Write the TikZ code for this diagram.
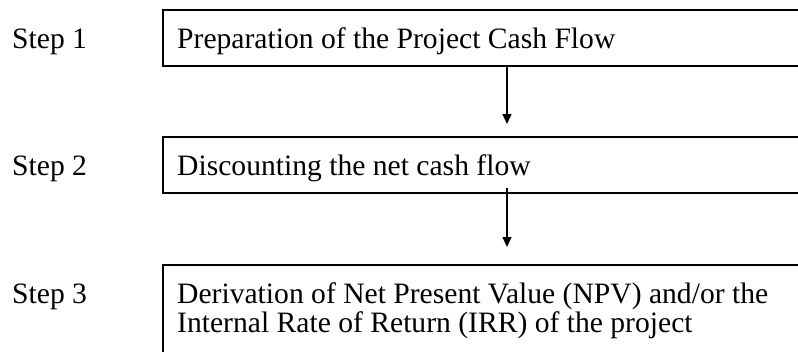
\documentclass[tikz,border=0pt]{standalone}
\usepackage{fontspec}
\setmainfont{Liberation Serif}
\usetikzlibrary{arrows.meta}
\tikzset{
  stepbox/.style={draw=black, line width=2pt, minimum width=660pt, inner sep=0pt, outer sep=0pt, anchor=north west},
  steplabel/.style={anchor=base west, inner sep=0pt, font=\fontsize{29.6}{29}\selectfont},
  boxtext/.style={anchor=base west, inner sep=0pt, align=left, font=\fontsize{29.6}{29}\selectfont},
  flow/.style={line width=1.4pt, -{Triangle[width=9pt,length=10pt]}}
}
\begin{document}
\begin{tikzpicture}[x=1pt, y=-1pt]
  \useasboundingbox (0,0) rectangle (798,351);
  \clip (0,0) rectangle (798,351);

  % step names on the left
  \node[steplabel] (s1) at (12,48)  {Step 1};
  \node[steplabel] (s2) at (12,175) {Step 2};
  \node[steplabel] (s3) at (12,303) {Step 3};

  % the three boxes
  \node[stepbox, minimum height=56pt] (b1) at (163,10)  {};
  \node[stepbox, minimum height=56pt] (b2) at (163,137) {};
  \node[stepbox, minimum height=100pt] (b3) at (163,265) {};

  % box contents (a two-line node sits on the baseline of its last line)
  \node[boxtext] (t1) at (177,48)  {Preparation of the Project Cash Flow};
  \node[boxtext] (t2) at (177,175) {Discounting the net cash flow};
  \node[boxtext] (t3) at (177,332) {Derivation of Net Present Value (NPV) and/or the\\Internal Rate of Return (IRR) of the project};

  % arrow ends
  \coordinate (ax) at (507,0);
  \coordinate (e1) at (507,124);
  \coordinate (s2out) at (507,188);
  \coordinate (e2) at (507,247);

  \draw[flow] (b1.south -| ax) -- (e1);
  \draw[flow] (s2out) -- (e2);
\end{tikzpicture}
\end{document}
